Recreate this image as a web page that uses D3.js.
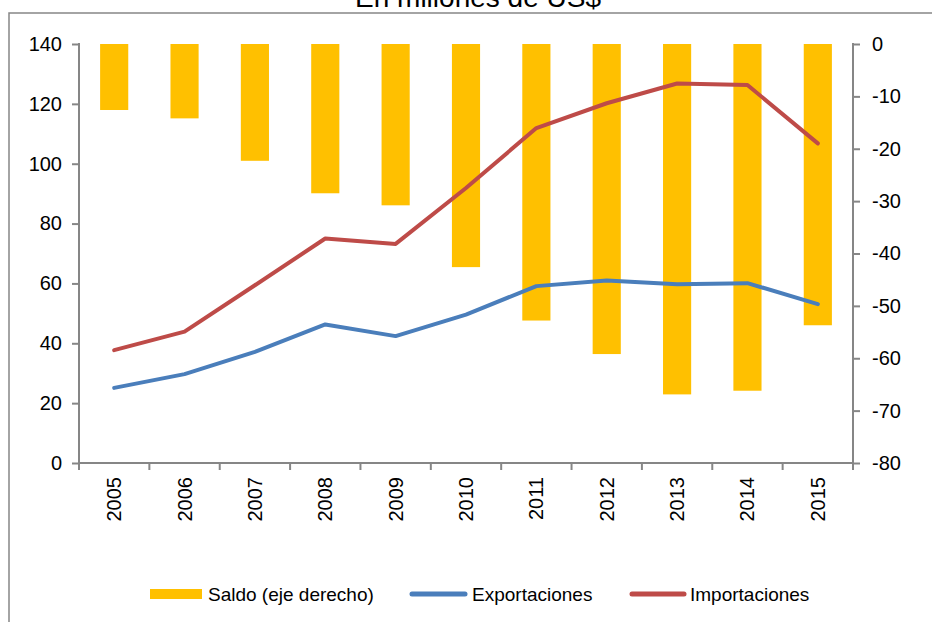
<!DOCTYPE html><html><head><meta charset="UTF-8"><script src="https://d3js.org/d3.v7.min.js"></script><style>
body { margin: 0; background: #fff; }
svg { font-family: Arial, "Liberation Sans", sans-serif; }
</style></head><body><div id="chart"></div><script>
const years = ["2005","2006","2007","2008","2009","2010","2011","2012","2013","2014","2015"];
const saldo = [-12.6, -14.2, -22.3, -28.5, -30.8, -42.6, -52.8, -59.2, -66.9, -66.2, -53.7];
const exportaciones = [25.1, 29.7, 37.1, 46.3, 42.4, 49.6, 59.1, 61.0, 59.7, 60.1, 53.1];
const importaciones = [37.7, 43.9, 59.4, 75.0, 73.2, 91.9, 111.9, 120.2, 126.8, 126.3, 106.8];
const leftTicks = [0, 20, 40, 60, 80, 100, 120, 140];
const rightTicks = [0, -10, -20, -30, -40, -50, -60, -70, -80];

const W = 932, H = 622;
const plot = {left: 79, right: 853, top: 44, bottom: 463};
const axisColor = '#868686';

const svg = d3.select('#chart').append('svg')
    .attr('width', W).attr('height', H);

// outer frame
svg.append('rect')
    .attr('x', 9).attr('y', 13)
    .attr('width', W).attr('height', H)
    .attr('fill', 'none').attr('stroke', axisColor).attr('stroke-width', 1.5);

svg.append('text')
    .attr('x', 478).attr('y', 7)
    .attr('text-anchor', 'middle')
    .attr('font-size', 28)
    .text('En millones de US$');

const x = d3.scaleBand().domain(years).range([plot.left, plot.right]).paddingInner(0).paddingOuter(0);
const yL = d3.scaleLinear().domain([0, 140]).range([plot.bottom, plot.top]);
const yR = d3.scaleLinear().domain([-80, 0]).range([plot.bottom, plot.top]);

const barW = x.bandwidth() * 0.4;

// bars
svg.append('g').selectAll('rect')
    .data(years)
    .enter().append('rect')
    .attr('x', d => x(d) + (x.bandwidth() - barW) / 2)
    .attr('y', yR(0))
    .attr('width', barW)
    .attr('height', (d, i) => yR(saldo[i]) - yR(0))
    .attr('fill', '#ffc000');

// left axis
const gL = svg.append('g').attr('transform', `translate(${plot.left},0)`)
    .call(d3.axisLeft(yL).tickValues(leftTicks).tickSize(7).tickPadding(10));
// right axis
const gR = svg.append('g').attr('transform', `translate(${plot.right},0)`)
    .call(d3.axisRight(yR).tickValues(rightTicks).tickSize(7).tickPadding(12)
        .tickFormat(d => d === 0 ? '0' : '-' + Math.abs(d)));
// bottom axis
const gB = svg.append('g').attr('transform', `translate(0,${plot.bottom})`)
    .call(d3.axisBottom(x).tickSize(0).tickPadding(0));

[gL, gR, gB].forEach(g => {
    g.select('.domain').attr('stroke', axisColor).attr('stroke-width', 2);
    g.selectAll('.tick line').attr('stroke', axisColor).attr('stroke-width', 2);
    g.selectAll('text').attr('fill', '#000').attr('font-size', 20).attr('font-family', 'Arial, "Liberation Sans", sans-serif');
});
gL.select('.domain').attr('d', `M0,${plot.top - 1}V${plot.bottom}`);
gL.selectAll('.tick line').attr('x2', -7);
gR.select('.domain').attr('d', `M0,${plot.top - 1}V${plot.bottom + 6}`);
gB.select('.domain').attr('d', `M${plot.left - 1},0H${plot.right}`);

// category boundary ticks
gB.selectAll('.bound')
    .data(years.concat(['end']))
    .enter().append('line')
    .attr('x1', (d, i) => plot.left + i * x.bandwidth())
    .attr('x2', (d, i) => plot.left + i * x.bandwidth())
    .attr('y1', 0).attr('y2', 7)
    .attr('stroke', axisColor).attr('stroke-width', 2);

gB.selectAll('.tick text')
    .attr('transform', 'rotate(-90)')
    .attr('text-anchor', 'end')
    .attr('x', -14)
    .attr('y', 0)
    .attr('dy', '0.35em');

// lines
const line = d3.line().x((d, i) => x(years[i]) + x.bandwidth() / 2).y(d => yL(d));
svg.append('path').datum(exportaciones)
    .attr('d', line).attr('fill', 'none')
    .attr('stroke', '#4a7ebb').attr('stroke-width', 4)
    .attr('stroke-linecap', 'round').attr('stroke-linejoin', 'round');
svg.append('path').datum(importaciones)
    .attr('d', line).attr('fill', 'none')
    .attr('stroke', '#be4b48').attr('stroke-width', 4)
    .attr('stroke-linecap', 'round').attr('stroke-linejoin', 'round');

// legend
const legend = svg.append('g').attr('font-size', 19);
legend.append('rect').attr('x', 150).attr('y', 589).attr('width', 52).attr('height', 10).attr('fill', '#ffc000');
legend.append('text').attr('x', 208).attr('y', 601).text('Saldo (eje derecho)');
legend.append('line').attr('x1', 412).attr('x2', 465).attr('y1', 594).attr('y2', 594)
    .attr('stroke', '#4a7ebb').attr('stroke-width', 5).attr('stroke-linecap', 'round');
legend.append('text').attr('x', 472).attr('y', 601).text('Exportaciones');
legend.append('line').attr('x1', 632).attr('x2', 684).attr('y1', 594).attr('y2', 594)
    .attr('stroke', '#be4b48').attr('stroke-width', 5).attr('stroke-linecap', 'round');
legend.append('text').attr('x', 690).attr('y', 601).text('Importaciones');
</script></body></html>
